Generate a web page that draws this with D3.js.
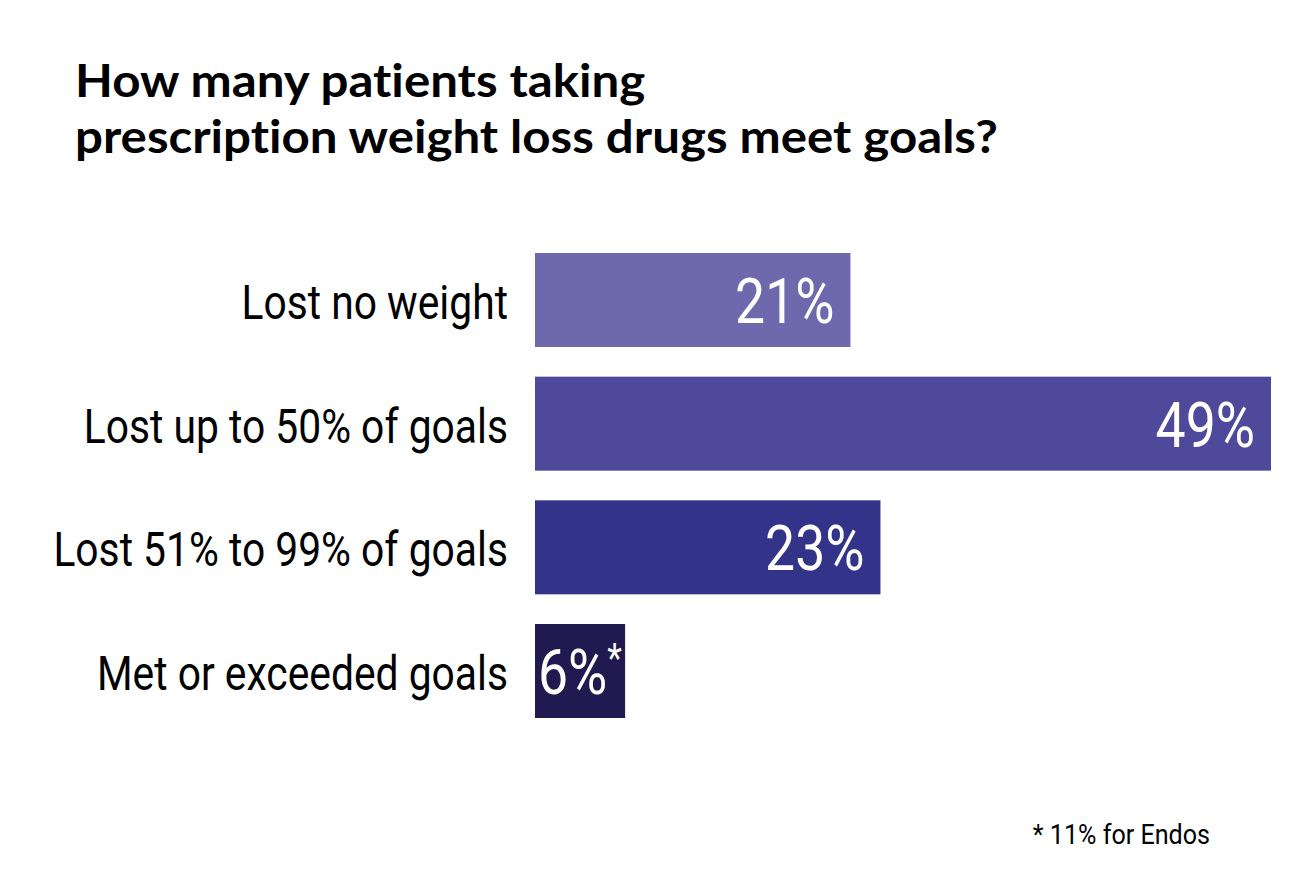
<!DOCTYPE html>
<html><head><meta charset="utf-8">
<script src="https://cdn.jsdelivr.net/npm/d3@7"></script>
<style>body{margin:0;background:#fff} text{font-variant-ligatures:none;font-feature-settings:"liga" 0,"clig" 0}</style>
</head><body><svg id="c" width="1290" height="878"></svg>
<script>
const titleLines = ["How many patients taking", "prescription weight loss drugs meet goals?"];
const categories = ["Lost no weight", "Lost up to 50% of goals", "Lost 51% to 99% of goals", "Met or exceeded goals"];
const values = [21, 49, 23, 6];
const valueLabels = ["21%", "49%", "23%", "6%"];
const labelMarks = ["", "", "", "*"];
const colors = ["#6e68ad", "#4f499c", "#34338a", "#201a50"];
const footnote = "* 11% for Endos";

const svg = d3.select("#c");
const condensed = 0.85;

const tg = svg.append("g");
const tt = tg.selectAll("text").data(titleLines).join("text")
  .attr("x", 0).attr("y", (d, i) => 97 + i * 56)
  .attr("font-family", "Lato, 'Open Sans', sans-serif").attr("font-weight", 700)
  .attr("font-size", 45).attr("fill", "#000").text(d => d);
const w2 = tt.nodes()[1].getComputedTextLength();
const sx = 923 / w2;
tg.attr("transform", `translate(75,0) scale(${sx},1)`);

const y = d3.scaleBand().domain(categories).range([253, 718]).paddingInner(0.24).paddingOuter(0);
const x = d3.scaleLinear().domain([0, 49]).range([535, 1271]);

const rows = svg.append("g").selectAll("g").data(categories).join("g");
rows.append("rect")
  .attr("x", x(0)).attr("y", d => y(d))
  .attr("width", (d, i) => x(values[i]) - x(0)).attr("height", y.bandwidth())
  .attr("fill", (d, i) => colors[i]);

rows.append("g")
  .attr("transform", d => `translate(508,${y(d) + y.bandwidth() / 2 + 19}) scale(${condensed},1)`)
  .append("text").attr("text-anchor", "end")
  .attr("font-family", "Roboto, sans-serif").attr("font-size", 48).attr("fill", "#000")
  .text(d => d);

rows.append("g")
  .attr("transform", (d, i) => values[i] < 10
      ? `translate(${x(0) + 3},${y(d) + y.bandwidth() / 2 + 23}) scale(${condensed},1)`
      : `translate(${x(values[i]) - 16},${y(d) + y.bandwidth() / 2 + 23}) scale(${condensed},1)`)
  .append("text").attr("text-anchor", (d, i) => values[i] < 10 ? "start" : "end")
  .attr("font-family", "Roboto, sans-serif").attr("font-size", 63).attr("fill", "#fff")
  .text((d, i) => valueLabels[i])
  .append("tspan").attr("font-size", 40).attr("dy", -22).text((d, i) => labelMarks[i]);

svg.append("g").attr("transform", `translate(1210,844) scale(0.93,1)`)
  .append("text").attr("text-anchor", "end")
  .attr("font-family", "Roboto, sans-serif").attr("font-size", 27).attr("fill", "#000")
  .text(footnote);
</script></body></html>
